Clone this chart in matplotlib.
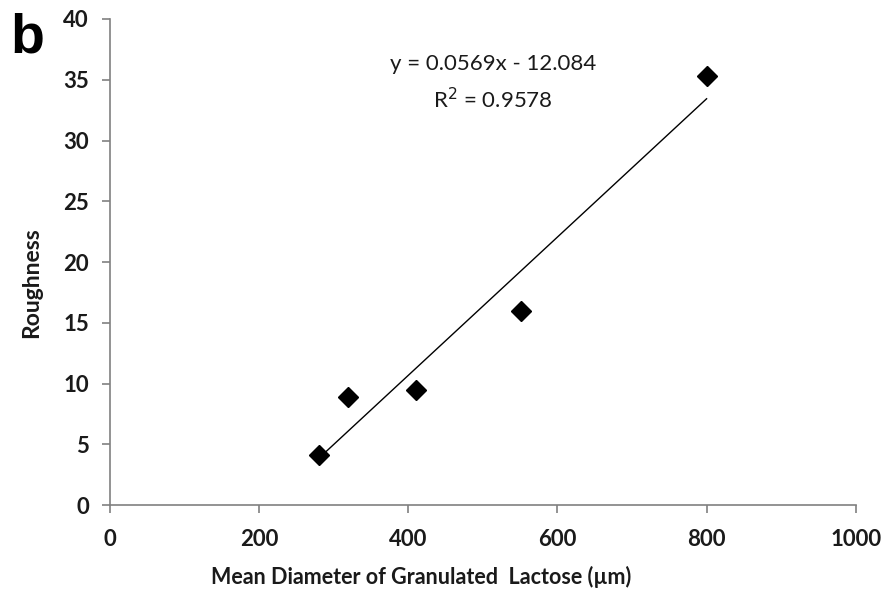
import matplotlib
matplotlib.use("Agg")
import matplotlib.pyplot as plt
import numpy as np

diameter = [280, 320, 410, 551, 800]
roughness = [4.1, 8.9, 9.5, 16.0, 35.3]
slope = 0.0569
intercept = -12.084
r2 = 0.9578
x_ticks = [0, 200, 400, 600, 800, 1000]
y_ticks = [0, 5, 10, 15, 20, 25, 30, 35, 40]

plt.rcParams['font.family'] = ['Lato', 'DejaVu Sans']

fig = plt.figure(figsize=(8.85, 5.93), dpi=100)
ax = fig.add_axes([0.124, 0.148, 0.843, 0.820])

xs = np.array([min(diameter), max(diameter)])
ax.plot(xs, slope * xs + intercept, color='black', lw=1.0, zorder=2)
ax.plot(diameter, roughness, linestyle='none', marker='D', color='black',
        markersize=10, zorder=3)

ax.set_xlim(0, 1000)
ax.set_ylim(0, 40)
ax.set_xticks(x_ticks)
ax.set_yticks(y_ticks)
for s in ['top', 'right']:
    ax.spines[s].set_visible(False)
for s in ['left', 'bottom']:
    ax.spines[s].set_color('#808080')
    ax.spines[s].set_linewidth(1.2)
ax.tick_params(axis='both', colors='#808080', length=6, width=1.2, direction='out')
for lab in ax.get_xticklabels() + ax.get_yticklabels():
    lab.set_color('#1a1a1a')
    lab.set_fontsize(16)
    lab.set_fontweight('bold')
ax.tick_params(axis='x', pad=11)
ax.tick_params(axis='y', pad=9)

ax.set_xlabel('Mean Diameter of Granulated  Lactose (\u00b5m)', fontsize=15.5,
              fontweight='bold', color='#1a1a1a')
ax.xaxis.set_label_coords(0.417, -0.125)
ax.set_ylabel('Roughness', fontsize=16.5, fontweight='bold', color='#1a1a1a')
ax.yaxis.set_label_coords(-0.091, 0.457)

ax.text(514, 36.3, f'y = {slope}x - {abs(intercept)}', ha='center', va='center',
        fontsize=16, color='#1a1a1a')
ax.text(514, 33.4, f'R$^2$ = {r2}', ha='center', va='center',
        fontsize=16, color='#1a1a1a')

fig.text(0.012, 0.935, 'b', fontsize=40, fontweight='bold',
         family=['Liberation Sans', 'DejaVu Sans'], va='center', ha='left')

fig.savefig('out.png', dpi=100)
